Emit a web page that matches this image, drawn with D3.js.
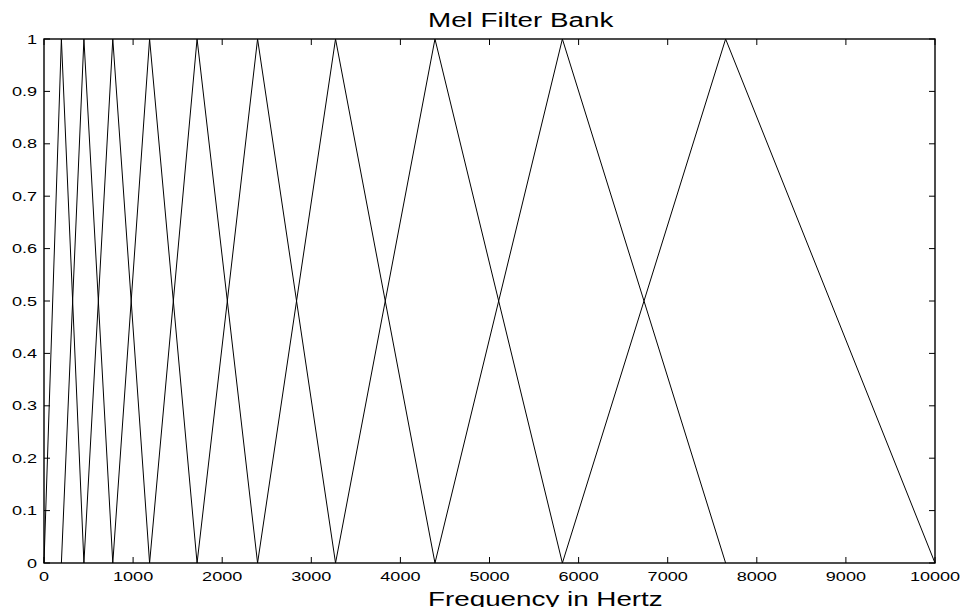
<!DOCTYPE html>
<html>
<head>
<meta charset="utf-8">
<script src="https://cdn.jsdelivr.net/npm/d3@7"></script>
<style>
  html, body { margin: 0; padding: 0; background: #fff; }
  svg text { font-family: "Liberation Sans", Arial, sans-serif; fill: #000; }
</style>
</head>
<body>
<svg id="chart" width="963" height="607"></svg>
<script>
// band edges / centres of the filters (Hz)
const bandEdges = [0, 195, 448, 772, 1185, 1718, 2397, 3272, 4388, 5818, 7650, 10000];
const peakGain = 1;
const xTicks = [0, 1000, 2000, 3000, 4000, 5000, 6000, 7000, 8000, 9000, 10000];
const yTicks = [0, 0.1, 0.2, 0.3, 0.4, 0.5, 0.6, 0.7, 0.8, 0.9, 1];
const titleText = "Mel Filter Bank";
const xLabelText = "Frequency in Hertz";

const plotLeft = 44, plotRight = 935, plotTop = 39, plotBottom = 563;
const stretch = 1.39; // text in the picture is wider than it is tall
const tickLen = 6;

const svg = d3.select("#chart");

const x = d3.scaleLinear().domain([0, 10000]).range([plotLeft, plotRight]);
const y = d3.scaleLinear().domain([0, 1]).range([plotBottom, plotTop]);

// triangles: one per interior edge
const filters = d3.range(1, bandEdges.length - 1).map(i => [
  [bandEdges[i - 1], 0],
  [bandEdges[i], peakGain],
  [bandEdges[i + 1], 0]
]);

const line = d3.line().x(d => x(d[0])).y(d => y(d[1]));

svg.append("g")
  .selectAll("path")
  .data(filters)
  .enter()
  .append("path")
  .attr("d", line)
  .attr("fill", "none")
  .attr("stroke", "#000")
  .attr("stroke-width", 1);

// ticks on all four sides, pointing inwards
const ticks = svg.append("g").attr("stroke", "#000").attr("stroke-width", 1);
xTicks.forEach(t => {
  ticks.append("line").attr("x1", x(t)).attr("x2", x(t)).attr("y1", plotBottom).attr("y2", plotBottom - tickLen);
  ticks.append("line").attr("x1", x(t)).attr("x2", x(t)).attr("y1", plotTop).attr("y2", plotTop + tickLen);
});
yTicks.forEach(t => {
  ticks.append("line").attr("x1", plotLeft).attr("x2", plotLeft + tickLen).attr("y1", y(t)).attr("y2", y(t));
  ticks.append("line").attr("x1", plotRight).attr("x2", plotRight - tickLen).attr("y1", y(t)).attr("y2", y(t));
});

// box
svg.append("rect")
  .attr("x", plotLeft).attr("y", plotTop)
  .attr("width", plotRight - plotLeft).attr("height", plotBottom - plotTop)
  .attr("fill", "none")
  .attr("stroke", "#000")
  .attr("stroke-width", 1.4);

// tick labels
svg.append("g")
  .selectAll("text")
  .data(xTicks)
  .enter()
  .append("text")
  .attr("transform", d => `translate(${x(d)},${plotBottom + 18}) scale(${stretch},1)`)
  .attr("text-anchor", "middle")
  .attr("font-size", 13)
  .text(d => d);

svg.append("g")
  .selectAll("text")
  .data(yTicks)
  .enter()
  .append("text")
  .attr("transform", d => `translate(37,${y(d) + 4.6}) scale(${stretch},1)`)
  .attr("text-anchor", "end")
  .attr("font-size", 13)
  .text(d => d3.format("~g")(d));

// title and x label
svg.append("text")
  .attr("transform", `translate(428,27.3) scale(${stretch},1)`)
  .attr("font-size", 20)
  .text(titleText);

svg.append("text")
  .attr("transform", `translate(428,606) scale(${stretch},1)`)
  .attr("font-size", 20)
  .text(xLabelText);
</script>
</body>
</html>
